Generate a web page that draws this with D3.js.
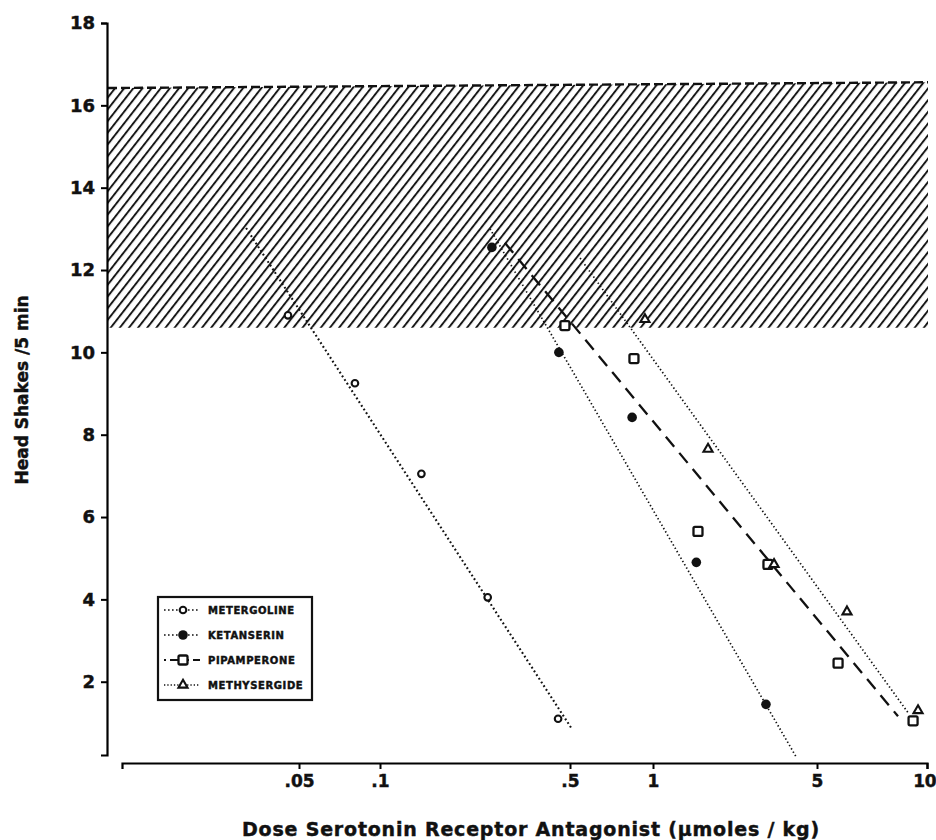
<!DOCTYPE html>
<html><head><meta charset="utf-8">
<script src="https://cdn.jsdelivr.net/npm/d3@7"></script>
<style>
body{margin:0;background:#fff}
text{font-family:"DejaVu Sans",sans-serif;font-weight:bold;fill:#111;stroke:#111;stroke-width:0.45px}
</style>
</head><body>
<svg id="chart" width="936" height="840"></svg>
<script>
// ---------- data ----------
const xTickValues = [0.05, 0.1, 0.5, 1, 5, 10];
const xTickLabels = [".05", ".1", ".5", "1", "5", "10"];
const yTickValues = [2, 4, 6, 8, 10, 12, 14, 16, 18];
const seriesNames = ["METERGOLINE", "KETANSERIN", "PIPAMPERONE", "METHYSERGIDE"];

const metergolineDose   = [0.0455, 0.0807, 0.142, 0.249, 0.452];
const metergolineShakes = [10.9, 9.25, 7.05, 4.05, 1.1];
const metergolineFit    = [[0.0318, 13.02], [0.505, 0.88]];

const ketanserinDose    = [0.258, 0.455, 0.84, 1.53, 3.03];
const ketanserinShakes  = [12.55, 10.0, 8.42, 4.9, 1.45];
const ketanserinFit     = [[0.254, 13.0], [4.07, 0.18]];

const pipamperoneDose   = [0.479, 0.853, 1.555, 3.09, 5.71, 9.16];
const pipamperoneShakes = [10.65, 9.85, 5.65, 4.85, 2.45, 1.05];
const pipamperoneFit    = [[0.288, 12.66], [8.33, 1.16]];

const methysergideDose   = [0.935, 1.716, 3.28, 6.04, 9.45];
const methysergideShakes = [10.8, 7.65, 4.85, 3.7, 1.3];
const methysergideFit    = [[0.544, 12.29], [8.87, 1.25]];

// control range (hatched band): bottom and top (left, right) values
const controlLow = 10.6;
const controlHigh = [16.42, 16.56];

// ---------- layout ----------
const svg = d3.select("#chart");
const yAxisX = 107, xAxisY = 763;
const xDomainPts = [0.011, 0.05, 0.1, 0.5, 1, 5, 10];
const xRangePts  = [122, 299, 380, 570, 653, 817, 927];
const x = d3.scaleLog().domain(xDomainPts).range(xRangePts);
const y = d3.scaleLinear().domain([0.22, 18]).range([755, 23]);

// ---------- hatch pattern ----------
const defs = svg.append("defs");
const pat = defs.append("pattern").attr("id", "hatch")
  .attr("patternUnits", "userSpaceOnUse").attr("width", 7.2).attr("height", 20)
  .attr("patternTransform", "rotate(38)");
pat.append("line").attr("x1", 1).attr("x2", 1).attr("y1", -2).attr("y2", 22)
  .attr("stroke", "#111").attr("stroke-width", 1.9);

const bandL = yAxisX + 1, bandR = x(10) + 1;
svg.append("path")
  .attr("d", `M${bandL},${y(controlHigh[0])}L${bandR},${y(controlHigh[1])}L${bandR},${y(controlLow)}L${bandL},${y(controlLow)}Z`)
  .attr("fill", "url(#hatch)");
svg.append("line")
  .attr("x1", bandL).attr("x2", bandR)
  .attr("y1", y(controlHigh[0])).attr("y2", y(controlHigh[1]))
  .attr("stroke", "#111").attr("stroke-width", 2.4).attr("stroke-dasharray", "9,4");

// ---------- axes ----------
const yAxis = svg.append("g").attr("transform", `translate(${yAxisX},0)`)
  .call(d3.axisLeft(y).tickValues(yTickValues).tickSize(6).tickSizeOuter(6).tickPadding(6).tickFormat(d3.format("d")));
yAxis.select(".domain").attr("stroke-width", 2.2);
yAxis.selectAll(".tick line").attr("stroke-width", 2);
yAxis.selectAll("text").attr("font-size", 18).attr("fill", "#111").attr("font-family", "DejaVu Sans").attr("font-weight", "bold");

const xAxis = svg.append("g").attr("transform", `translate(0,${xAxisY})`)
  .call(d3.axisBottom(x).tickValues(xTickValues).tickSize(6).tickSizeOuter(6).tickPadding(6)
    .tickFormat((d, i) => xTickLabels[i]));
xAxis.select(".domain").attr("stroke-width", 2.2);
xAxis.selectAll(".tick line").attr("stroke-width", 2);
xAxis.selectAll("text").attr("font-size", 17).attr("fill", "#111").attr("font-family", "DejaVu Sans").attr("font-weight", "bold");
// keep the last label inside the page
xAxis.selectAll(".tick").filter(d => d === 10).select("text").attr("text-anchor", "end").attr("dx", 8.5).attr("letter-spacing", -0.5);

// axis titles
svg.append("text").attr("x", 531).attr("y", 836).attr("text-anchor", "middle")
  .attr("font-size", 19).attr("letter-spacing", 0.8)
  .text("Dose Serotonin Receptor Antagonist (μmoles / kg)");
svg.append("text").attr("transform", "translate(28,390) rotate(-90)").attr("text-anchor", "middle")
  .attr("font-size", 17)
  .text("Head Shakes /5 min");

// ---------- series ----------
const series = [
  {name: seriesNames[0], dose: metergolineDose, shakes: metergolineShakes, fit: metergolineFit, dash: "1.8,2.6", width: 2.1, marker: "openCircle"},
  {name: seriesNames[1], dose: ketanserinDose, shakes: ketanserinShakes, fit: ketanserinFit, dash: "1.4,2.4", width: 1.7, marker: "filledCircle"},
  {name: seriesNames[2], dose: pipamperoneDose, shakes: pipamperoneShakes, fit: pipamperoneFit, dash: "13,8", width: 2.3, marker: "square"},
  {name: seriesNames[3], dose: methysergideDose, shakes: methysergideShakes, fit: methysergideFit, dash: "1.4,2.4", width: 1.7, marker: "triangle"}
];

const line = d3.line().x(d => x(d[0])).y(d => y(d[1]));

function drawMarker(g, type, cx, cy) {
  if (type === "openCircle") {
    g.append("circle").attr("cx", cx).attr("cy", cy).attr("r", 3.3)
      .attr("fill", "#fff").attr("stroke", "#111").attr("stroke-width", 2.1);
  } else if (type === "filledCircle") {
    g.append("circle").attr("cx", cx).attr("cy", cy).attr("r", 4.8).attr("fill", "#111");
  } else if (type === "square") {
    g.append("rect").attr("x", cx - 4.5).attr("y", cy - 4.5).attr("width", 9).attr("height", 9).attr("rx", 1.5)
      .attr("fill", "#fff").attr("stroke", "#111").attr("stroke-width", 2.3);
  } else {
    g.append("path").attr("transform", `translate(${cx},${cy})`)
      .attr("d", d3.symbol().type(d3.symbolTriangle).size(36)())
      .attr("fill", "#fff").attr("stroke", "#111").attr("stroke-width", 2.1);
  }
}

series.forEach(s => {
  svg.append("path").attr("d", line(s.fit)).attr("fill", "none")
    .attr("stroke", "#111").attr("stroke-width", s.width).attr("stroke-dasharray", s.dash);
});
series.forEach(s => {
  const g = svg.append("g");
  s.dose.forEach((d, i) => drawMarker(g, s.marker, x(d), y(s.shakes[i])));
});

// ---------- legend ----------
const lg = svg.append("g").attr("transform", "translate(158,597)");
lg.append("rect").attr("width", 154).attr("height", 103).attr("fill", "#fff")
  .attr("stroke", "#111").attr("stroke-width", 2.2);
const legendDash = ["1.6,2.4", "1.6,2.4", "2,4,12,5", "1.3,2"];
series.forEach((s, i) => {
  const cy = 13 + i * 25;
  lg.append("line").attr("x1", 6).attr("x2", 42).attr("y1", cy).attr("y2", cy)
    .attr("stroke", "#111").attr("stroke-width", s.marker === "square" ? 2 : 1.6).attr("stroke-dasharray", legendDash[i]);
  drawMarker(lg, s.marker, 25, cy);
  lg.append("text").attr("x", 50).attr("y", cy + 4).attr("font-size", 10).attr("letter-spacing", 0.6).text(s.name);
});
</script>
</body></html>
